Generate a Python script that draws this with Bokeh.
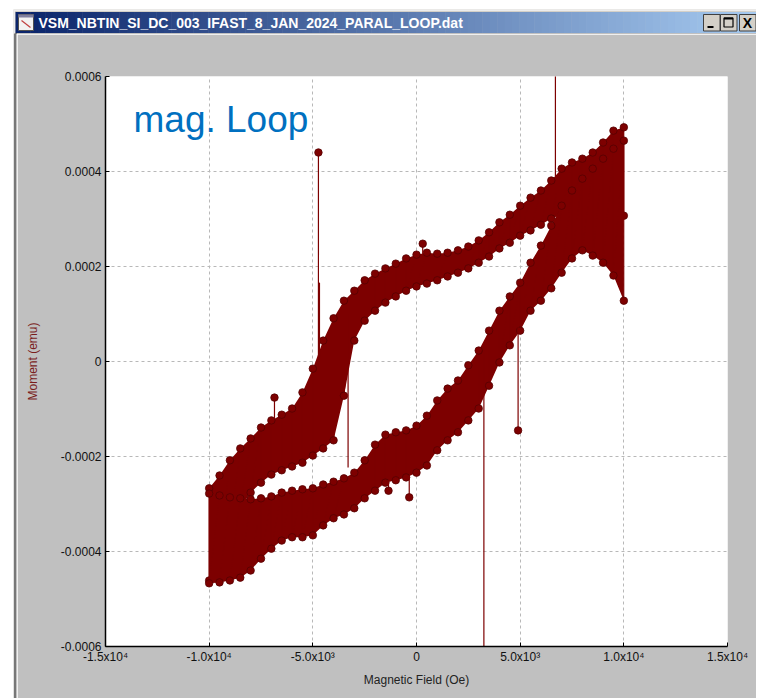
import numpy as np
from bokeh.plotting import figure
from bokeh.models import Range1d, FixedTicker, Label, Div
from bokeh.layouts import column, row
from bokeh.embed import file_html
from bokeh.resources import INLINE
from bokeh.core.properties import value

WINDOW_TITLE = "VSM_NBTIN_SI_DC_003_IFAST_8_JAN_2024_PARAL_LOOP.dat"

# Magnetic field grid (Oe)
H = [-10000, -9500, -9000, -8500, -8000, -7500, -7000, -6500, -6000, -5500,
     -5000, -4500, -4000, -3500, -3000, -2500, -2000, -1500, -1000, -500,
     0, 500, 1000, 1500, 2000, 2500, 3000, 3500, 4000, 4500,
     5000, 5500, 6000, 6500, 7000, 7500, 8000, 8500, 9000, 9500, 10000]

# Descending-field branch: upper / lower edge of the noisy band (1e-4 emu)
dn_top = [-2.67, -2.40, -2.08, -1.83, -1.62, -1.39, -1.24, -1.12, -0.99, -0.65,
          -0.15, 0.44, 0.91, 1.28, 1.49, 1.71, 1.85, 1.96, 2.06, 2.17,
          2.25, 2.29, 2.27, 2.29, 2.34, 2.42, 2.55, 2.72, 2.93, 3.09,
          3.28, 3.45, 3.60, 3.81, 4.06, 4.19, 4.27, 4.40, 4.61, 4.86, 4.93]
dn_bot = [-4.61, -4.08, -3.56, -3.09, -2.76, -2.55, -2.38, -2.29, -2.21, -2.13,
          -1.98, -1.83, -1.66, -0.72, 0.44, 0.86, 1.07, 1.24, 1.37, 1.49,
          1.58, 1.64, 1.71, 1.79, 1.87, 1.96, 2.08, 2.21, 2.38, 2.50,
          2.65, 2.76, 2.88, 3.01, 3.09, 3.18, 3.22, 3.22, 3.18, 3.14, 3.07]

# Ascending-field branch
up_top = [-2.78, -2.82, -2.86, -2.88, -2.90, -2.88, -2.84, -2.76, -2.72, -2.69,
          -2.67, -2.59, -2.53, -2.46, -2.34, -2.08, -1.75, -1.54, -1.49, -1.45,
          -1.35, -1.14, -0.82, -0.57, -0.40, -0.08, 0.23, 0.65, 1.07, 1.37,
          1.66, 2.08, 2.44, 2.86, 3.28, 3.60, 3.85, 4.06, 4.27, 4.48, 4.65]
up_bot = [-4.67, -4.65, -4.61, -4.55, -4.40, -4.15, -3.94, -3.77, -3.70, -3.70,
          -3.66, -3.45, -3.30, -3.22, -3.09, -2.88, -2.72, -2.55, -2.50, -2.44,
          -2.34, -2.19, -1.87, -1.66, -1.49, -1.24, -0.99, -0.51, -0.02, 0.34,
          0.65, 1.07, 1.28, 1.54, 1.87, 2.17, 2.34, 2.23, 2.08, 1.81, 1.28]

# Isolated spikes: field (Oe), band value, spike value (1e-4 emu), end dot shown
spike_H = [-6850, -4730, -4680, -3300, 300, 6700, -1350, -350, 3250, 4900]
spike_base = [-1.20, 0.10, 0.10, 1.00, 2.25, 3.90, -2.50, -2.40, 0.30, 0.80]
spike_tip = [-0.76, 4.40, 1.66, -2.23, 2.48, 8.00, -2.72, -2.86, -8.00, -1.45]
spike_dot = [1, 1, 0, 0, 1, 0, 1, 1, 0, 1]

x_ticks = [-15000, -10000, -5000, 0, 5000, 10000, 15000]
x_tick_labels = ["-1.5x10\u2074", "-1.0x10\u2074", "-5.0x10\u00b3", "0",
                 "5.0x10\u00b3", "1.0x10\u2074", "1.5x10\u2074"]
y_ticks = [-0.0006, -0.0004, -0.0002, 0, 0.0002, 0.0004, 0.0006]
y_tick_labels = ["-0.0006", "-0.0004", "-0.0002", "0", "0.0002", "0.0004", "0.0006"]

RED = "#7d0000"
DARK = "#560000"
GREY = "#c0c0c0"
FONT = "Liberation Sans"

TOTAL_W = 756
TITLE_H = 34
MAIN_H = 664
STRIP_W = 17

# ---------------- window title bar ----------------
tf = figure(width=TOTAL_W, height=TITLE_H, x_range=Range1d(0, TOTAL_W),
            y_range=Range1d(TITLE_H, 0), output_backend="svg",
            toolbar_location=None, min_border=0,
            x_axis_location=None, y_axis_location=None,
            background_fill_color="white", border_fill_color="white",
            outline_line_color=None)
tf.grid.visible = False
tf.quad(left=[13], right=[TOTAL_W], top=[9], bottom=[TITLE_H], fill_color="#d4d0c8", line_color=None)
tf.quad(left=[13], right=[14.5], top=[9], bottom=[TITLE_H], fill_color="#ececec", line_color=None)
tf.quad(left=[14.5], right=[TOTAL_W], top=[9], bottom=[10.5], fill_color="#ececec", line_color=None)
tf.quad(left=[14], right=[16.5], top=[32.5], bottom=[TITLE_H], fill_color="#777777", line_color=None)
c0 = np.array([10, 36, 106], float)
c1 = np.array([166, 202, 240], float)
n = 100
edges = np.linspace(15, TOTAL_W, n + 1)
cols = []
for i in range(n):
    t = i / (n - 1)
    c = (c0 + (c1 - c0) * t).astype(int)
    cols.append("#%02x%02x%02x" % tuple(c))
tf.quad(left=edges[:-1], right=edges[1:] + 0.5, top=11.5, bottom=32.5,
        fill_color=cols, line_color=None)
tf.quad(left=[16.5], right=[TOTAL_W], top=[32.5], bottom=[TITLE_H], fill_color=GREY, line_color=None)
# icon
tf.quad(left=[18], right=[33], top=[14], bottom=[30], fill_color="#f2f2f2", line_color="#505050")
tf.quad(left=[18], right=[33], top=[14], bottom=[17], fill_color="#7f7f9f", line_color=None)
tf.segment(x0=[21], y0=[20], x1=[30], y1=[27], line_color="#c04040", line_width=1.2)
tf.text(x=[38], y=[22.5], text=[WINDOW_TITLE], text_color="white",
        text_font=value(FONT), text_font_style="bold",
        text_font_size="14px", text_baseline="middle", text_align="left")
# buttons
bx = [703, 720, 739]
tf.quad(left=bx, right=[b + 16.5 for b in bx], top=14, bottom=30.5,
        fill_color="#d4d0c8", line_color="#404040", line_width=1)
tf.segment(x0=[707], y0=[26.5], x1=[713], y1=[26.5], line_color="black", line_width=2)
tf.quad(left=[723.5], right=[732.5], top=[17.5], bottom=[26.5], fill_color=None,
        line_color="black", line_width=1.2)
tf.segment(x0=[723.5], y0=[18], x1=[732.5], y1=[18], line_color="black", line_width=2)
tf.text(x=[747], y=[22.5], text=["X"], text_color="black", text_font=value(FONT),
        text_font_style="bold", text_font_size="14px", text_baseline="middle",
        text_align="center")

# ---------------- left window border (plain decoration) ----------------
strip = Div(text="", width=STRIP_W, height=MAIN_H, margin=0,
            styles={"background": "linear-gradient(to right, #ffffff 0px, #ffffff 13px, "
                                  "#e0e0e0 13px, #e0e0e0 14px, #777777 14px, "
                                  "#777777 16.5px, #c0c0c0 16.5px, #c0c0c0 17px)"})

# ---------------- main plot ----------------
p = figure(width=TOTAL_W - STRIP_W, height=MAIN_H, x_range=Range1d(-15000, 15000),
           y_range=Range1d(-0.0006, 0.0006), output_backend="svg",
           toolbar_location=None, min_border_left=88,
           min_border_right=TOTAL_W - 727, min_border_top=76 - TITLE_H,
           min_border_bottom=TITLE_H + MAIN_H - 646,
           background_fill_color="white", border_fill_color=GREY,
           outline_line_color=None)

p.xaxis.ticker = FixedTicker(ticks=x_ticks)
p.xgrid.ticker = FixedTicker(ticks=x_ticks)
p.yaxis.ticker = FixedTicker(ticks=y_ticks)
p.ygrid.ticker = FixedTicker(ticks=y_ticks)
p.xaxis.major_label_overrides = dict(zip(x_ticks, x_tick_labels))
p.yaxis.major_label_overrides = dict(zip(y_ticks, y_tick_labels))
for ax in (p.xaxis[0], p.yaxis[0]):
    ax.axis_line_color = "black"
    ax.axis_line_width = 1.5
    ax.major_tick_in = 4
    ax.major_tick_out = 0
    ax.major_tick_line_color = "black"
    ax.minor_tick_line_color = None
    ax.major_label_text_font = FONT
    ax.major_label_text_font_size = "12px"
    ax.major_label_text_color = "#111111"
    ax.axis_label_text_font = FONT
    ax.axis_label_text_font_style = "normal"
    ax.axis_label_text_font_size = "12px"
p.xaxis.axis_label = "Magnetic Field (Oe)"
p.xaxis.axis_label_text_color = "#222222"
p.yaxis.axis_label = "Moment (emu)"
p.yaxis.axis_label_text_color = "#7a1c1c"
p.xaxis.major_label_standoff = 3
p.yaxis.major_label_standoff = 4
p.xaxis.axis_label_standoff = 6
p.yaxis.axis_label_standoff = 18

p.grid.grid_line_color = "#b8b8b8"
p.grid.grid_line_dash = "3 3"
p.grid.grid_line_width = 1

Hn = np.array(H, float)
S = 1e-4
for top, bot in ((dn_top, dn_bot), (up_top, up_bot)):
    t = np.array(top) * S
    b = np.array(bot) * S
    p.varea(x=Hn, y1=b, y2=t, fill_color=RED)
    zx = np.ravel(np.column_stack([Hn, Hn]))
    zy = np.ravel(np.column_stack([t, b]))
    p.line(x=zx, y=zy, line_color=RED, line_width=1)
    p.scatter(x=np.concatenate([Hn, Hn]), y=np.concatenate([t, b]), size=7.5,
              fill_color=RED, line_color=DARK, line_width=0.8)

sH = np.array(spike_H, float)
p.segment(x0=sH, y0=np.array(spike_base) * S, x1=sH, y1=np.array(spike_tip) * S,
          line_color=RED, line_width=1.2)
mask = np.array(spike_dot, bool)
p.scatter(x=sH[mask], y=np.array(spike_tip)[mask] * S, size=7.5,
          fill_color=RED, line_color=DARK, line_width=0.8)

p.add_layout(Label(x=-13650, y=5.10e-4, text="mag. Loop", text_font=FONT,
                   text_font_size="37px", text_color="#0070c0",
                   text_baseline="alphabetic", text_align="left"))

layout = column(tf, row(strip, p))
open("out.html", "w").write(file_html(layout, INLINE))
